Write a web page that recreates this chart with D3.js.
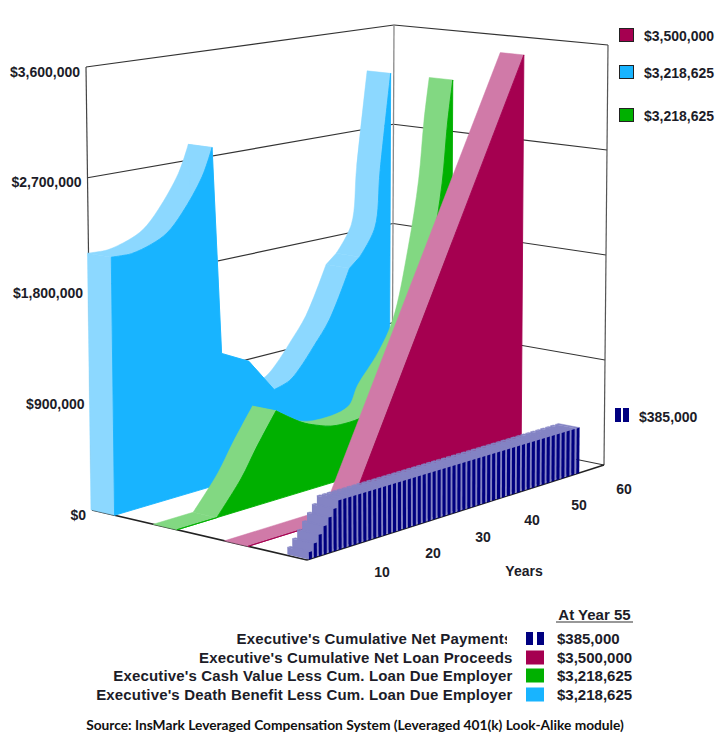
<!DOCTYPE html>
<html><head><meta charset="utf-8">
<script src="https://cdn.jsdelivr.net/npm/d3@7/dist/d3.min.js"></script>
<style>html,body{margin:0;padding:0;background:#fff}svg{display:block}</style>
</head><body><svg id="c" width="720" height="735"></svg>
<script>
const valueTicks = [0, 900000, 1800000, 2700000, 3600000];
const valueTickLabels = ["$0", "$900,000", "$1,800,000", "$2,700,000", "$3,600,000"];
const yearTicks = [10, 20, 30, 40, 50, 60];

const blueYears = [0, 2, 4, 8, 11, 14, 18, 20, 21.6, 27, 32, 35, 37, 40, 43, 47, 49, 52, 53, 55];
const blueValues = [2085000, 2080000, 2080000, 2125000, 2190000, 2330000, 2600000, 2830000, 1090000, 966000, 670000, 710000, 790000, 960000, 1150000, 1560000, 1640000, 1870000, 2370000, 3218625];
const blueCorners = [20, 21.6, 27, 32, 47, 49];

const greenYears = [0, 8, 13, 16, 20, 25, 28, 32, 39, 41, 45, 48, 51, 53, 54, 55];
const greenValues = [0, 0, 260000, 470000, 730000, 580000, 520000, 470000, 505000, 670000, 900000, 1160000, 1760000, 2330000, 2840000, 3218625];
const greenCorners = [8, 20];

const crimsonYears = [0, 20, 55];
const crimsonValues = [0, 0, 3500000];
const crimsonCorners = [20];

const paymentValues = [55000,110000,165000,220000,275000,330000,385000,
  385000,385000,385000,385000,385000,385000,385000,385000,385000,385000,
  385000,385000,385000,385000,385000,385000,385000,385000,385000,385000,
  385000,385000,385000,385000,385000,385000,385000,385000,385000,385000,
  385000,385000,385000,385000,385000,385000,385000,385000,385000,385000,
  385000,385000,385000,385000,385000,385000,385000,385000];

const legendNames = ["Executive's Cumulative Net Payments", "Executive's Cumulative Net Loan Proceeds",
  "Executive's Cash Value Less Cum. Loan Due Employer", "Executive's Death Benefit Less Cum. Loan Due Employer"];
const legendValues = ["$385,000", "$3,500,000", "$3,218,625", "$3,218,625"];
const legendTitle = "At Year 55";
const sourceNote = "Source: InsMark Leveraged Compensation System (Leveraged 401(k) Look-Alike module)";

const colors = {navy:"#000080", navyLight:"#8484c4", crimson:"#a50050", crimsonLight:"#d07aa8",
  green:"#00b000", greenLight:"#82d882", blue:"#18b4ff", blueLight:"#8cd8ff"};

// Scales: data -> unit box
const yearScale = d3.scaleLinear().domain([0, 60]).range([0, 1]);
const valueScale = d3.scaleLinear().domain([0, 3600000]).range([0, 1]);

// The box corners on the page
const corners = {
  f0b:[307,560], f1b:[604,465], r0b:[92,510], r1b:[392,422],
  f0t:[304,92],  f1t:[608,45],  r0t:[86,67],  r1t:[394,25]
};
const lerp = (a,b,k)=>[a[0]+(b[0]-a[0])*k, a[1]+(b[1]-a[1])*k];
function project(year, value, t){
  const u = yearScale(year), v = valueScale(value);
  const b = lerp(lerp(corners.f0b,corners.f1b,u), lerp(corners.r0b,corners.r1b,u), t);
  const p = lerp(lerp(corners.f0t,corners.f1t,u), lerp(corners.r0t,corners.r1t,u), t);
  return lerp(b,p,v);
}
const line = d3.line();
const smooth = d3.line().curve(d3.curveCatmullRom.alpha(0.5));
const svg = d3.select("#c");
const font = "'Liberation Sans', Arial, sans-serif";
const ink = "#1c1c28";

// Walls and floor
const wall = svg.append("g").attr("fill","none");
function seg(a,b,stroke,w){ wall.append("path").attr("d",line([a,b])).attr("stroke",stroke).attr("stroke-width",w); }
valueTicks.slice(1).forEach(val=>{
  seg(project(0,val,1), project(60,val,1), "#333", 1.2);
  seg(project(60,val,1), project(60,val,0), "#333", 1.2);
});
seg(project(0,0,1), project(0,3600000,1), "#444", 1.2);
seg(project(60,0,1), project(60,3600000,1), "#8a8a8a", 1.3);
seg(project(60,0,0), project(60,3600000,0), "#555", 1.2);
seg(project(60,0,1), project(60,0,0), "#333", 1.1);
seg(project(0,0,1), project(0,0,0), "#222", 1.6);
seg(project(0,0,0), project(60,0,0), "#222", 1.4);

// Area ribbons: smooth runs split at the curve's sharp corners
const ribbonWidth = 0.11;
function splitRuns(pts, cornerYears){
  const runs = []; let run = [pts[0]];
  pts.slice(1).forEach(p=>{
    run.push(p);
    if (cornerYears.includes(p.y)) { runs.push(run); run = [p]; }
  });
  if (run.length > 1) runs.push(run);
  return runs;
}
function ribbon(years, values, cornerYears, tFront, dark, light){
  const g = svg.append("g");
  const pts = years.map((y,i)=>({y, val:values[i]}));
  const runs = splitRuns(pts, cornerYears);
  if (values[0] > 0) {
    g.append("path").attr("fill",light).attr("stroke",light).attr("stroke-width",0.5).attr("d", line([
      project(years[0],0,tFront+ribbonWidth), project(years[0],values[0],tFront+ribbonWidth),
      project(years[0],values[0],tFront), project(years[0],0,tFront)])+"Z");
  }
  let faceD = "M" + project(years[0],0,tFront).join(",");
  runs.forEach(run=>{
    const front = run.map(p=>project(p.y,p.val,tFront));
    const back = run.map(p=>project(p.y,p.val,tFront+ribbonWidth)).reverse();
    g.append("path").attr("fill",light).attr("stroke",light).attr("stroke-width",0.5)
      .attr("d", smooth(front) + smooth(back).replace("M","L") + "Z");
    faceD += smooth(front).replace("M","L");
  });
  faceD += "L" + project(years[years.length-1],0,tFront).join(",") + "Z";
  g.append("path").attr("fill",dark).attr("stroke",dark).attr("stroke-width",0.9)
   .attr("stroke-linejoin","round").attr("d", faceD);
}
const seriesDepth = {blue:0.895, green:0.605, crimson:0.274, navy:0};
ribbon(blueYears, blueValues, blueCorners, seriesDepth.blue, colors.blue, colors.blueLight);
ribbon(greenYears, greenValues, greenCorners, seriesDepth.green, colors.green, colors.greenLight);
ribbon(crimsonYears, crimsonValues, crimsonCorners, seriesDepth.crimson, colors.crimson, colors.crimsonLight);

// Payment bars, far end first so nearer bars overlap correctly
const barG = svg.append("g");
const barDepth = 0.1, barSpan = 0.62;
for (let i = paymentValues.length-1; i >= 0; i--){
  const yr = i+1, x0 = yr-barSpan, x1 = yr, val = paymentValues[i];
  barG.append("path").attr("fill",colors.navyLight).attr("d", line([
    project(x0,0,0), project(x0,val,0), project(x0,val,barDepth), project(x0,0,barDepth)])+"Z");
  barG.append("path").attr("fill",colors.navyLight).attr("stroke",colors.navyLight).attr("stroke-width",.4).attr("d", line([
    project(x0,val,0), project(x1,val,0), project(x1,val,barDepth), project(x0,val,barDepth)])+"Z");
  barG.append("path").attr("fill",colors.navy).attr("d", line([
    project(x0,0,0), project(x1,0,0), project(x1,val,0), project(x0,val,0)])+"Z");
}

// Axis labels
const txt = (x,y,s,size,anchor)=>svg.append("text").attr("x",x).attr("y",y).text(s)
  .attr("font-family",font).attr("font-weight","bold").attr("font-size",size)
  .attr("fill",ink).attr("text-anchor",anchor||"start").attr("dominant-baseline","central");

valueTicks.forEach((val,i)=>{
  const p = project(0,val,1);
  txt(p[0]-6, p[1]+4.5, valueTickLabels[i], 14, "end");
});
const yearLabelNudge = [[25.5,28],[27,25],[27.5,24.5],[27,23],[24.5,24],[20,24]];
yearTicks.forEach((y,i)=>{
  const p = project(y,0,0);
  txt(p[0]+yearLabelNudge[i][0], p[1]+yearLabelNudge[i][1], y, 14, "middle");
});
txt(524, 571, "Years", 14, "middle");

// Series value keys at the right
const keyRows = [[colors.crimson,"$3,500,000",35],[colors.blue,"$3,218,625",72],[colors.green,"$3,218,625",115]];
keyRows.forEach(([c,s,y])=>{
  svg.append("rect").attr("x",619.5).attr("y",y-6.5).attr("width",14).attr("height",13)
    .attr("fill",c).attr("stroke","#222").attr("stroke-width",1);
  txt(644, y+1, s, 14);
});
[[615,6],[623,6]].forEach(([x,w])=>svg.append("rect").attr("x",x).attr("y",408).attr("width",w).attr("height",14).attr("fill",colors.navy));
txt(639, 417, legendValues[0], 14);

// Bottom legend
txt(594.5, 614, legendTitle, 15, "middle");
svg.append("line").attr("x1",556).attr("x2",633).attr("y1",622).attr("y2",622).attr("stroke","#333").attr("stroke-width",1.2);
svg.append("clipPath").attr("id","clipRow").append("rect").attr("x",0).attr("y",625).attr("width",507).attr("height",22);
const rowY = [638, 657, 675, 694];
const rowColors = [colors.navy, colors.crimson, colors.green, colors.blue];
legendNames.forEach((name,i)=>{
  const t = txt(512.5, rowY[i], name, 15, "end").attr("letter-spacing",0.16);
  if (i===0) t.attr("clip-path","url(#clipRow)");
  if (i===0){
    [526,537].forEach(x=>svg.append("rect").attr("x",x).attr("y",632).attr("width",7).attr("height",13).attr("fill",rowColors[0]));
  } else {
    svg.append("rect").attr("x",526).attr("y",rowY[i]-6.5).attr("width",18).attr("height",14).attr("fill",rowColors[i]);
  }
  txt(557, rowY[i], legendValues[i], 15);
});

svg.append("text").attr("x",355).attr("y",724).attr("text-anchor","middle").attr("dominant-baseline","central")
  .attr("font-family","Lato, 'Open Sans', sans-serif").attr("font-weight","bold").attr("font-size",13.75)
  .attr("fill","#111").text(sourceNote);
</script></body></html>
